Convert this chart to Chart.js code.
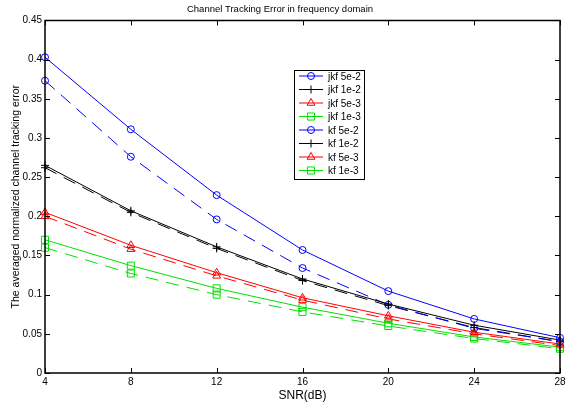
<!DOCTYPE html>
<html>
<head>
<meta charset="utf-8">
<script src="https://cdn.jsdelivr.net/npm/chart.js@4.4.1/dist/chart.umd.min.js"></script>
<style>
  body { margin: 0; background: #fff; }
</style>
</head>
<body>
<canvas id="myChart" width="581" height="405"></canvas>
<script>
// SNR points (dB)
const snr = [4, 8, 12, 16, 20, 24, 28];
const yTicks = [0, 0.05, 0.1, 0.15, 0.2, 0.25, 0.3, 0.35, 0.4, 0.45];

// solid curves
const jkf5e2 = [0.403, 0.311, 0.227, 0.157, 0.1045, 0.069, 0.045];
const jkf1e2 = [0.265, 0.207, 0.161, 0.120, 0.088, 0.061, 0.042];
const jkf5e3 = [0.205, 0.163, 0.128, 0.096, 0.073, 0.052, 0.037];
const jkf1e3 = [0.170, 0.137, 0.108, 0.084, 0.0635, 0.046, 0.033];
// dashed curves
const kf5e2 = [0.373, 0.276, 0.196, 0.134, 0.087, 0.057, 0.040];
const kf1e2 = [0.262, 0.205, 0.159, 0.118, 0.086, 0.058, 0.040];
const kf5e3 = [0.200, 0.158, 0.124, 0.093, 0.069, 0.050, 0.035];
const kf1e3 = [0.160, 0.127, 0.100, 0.078, 0.060, 0.044, 0.031];

const FONT = "'Liberation Sans', Arial, sans-serif";
const GREEN = "#00e000";

function series(label, values, color, style, radius, dashed) {
  return {
    label: label,
    data: snr.map((x, i) => ({ x: x, y: values[i] })),
    borderColor: color,
    borderWidth: 1,
    borderDash: dashed ? [13, 8] : [],
    pointStyle: style,
    pointRadius: radius,
    pointHoverRadius: radius,
    pointBorderColor: color,
    pointBackgroundColor: "rgba(0,0,0,0)",
    pointBorderWidth: 1,
    fill: false,
    tension: 0,
    clip: false
  };
}

// box, inward ticks and the legend inside the plot, matlab style
const matlabAxes = {
  id: "matlabAxes",
  afterDraw(chart) {
    const c = chart.ctx;
    const a = chart.chartArea;
    const xs = chart.scales.x, ys = chart.scales.y;
    c.save();
    c.setLineDash([]);
    c.strokeStyle = "#000000";
    c.lineWidth = 1.5;
    c.beginPath();
    c.moveTo(a.left, a.top);
    c.lineTo(a.right, a.top);
    c.lineTo(a.right, a.bottom);
    c.lineTo(a.left, a.bottom);
    c.closePath();
    c.stroke();
    c.lineWidth = 1;
    c.beginPath();
    snr.forEach(v => {
      const px = Math.round(xs.getPixelForValue(v)) + 0.5;
      c.moveTo(px, a.bottom); c.lineTo(px, a.bottom - 5);
      c.moveTo(px, a.top); c.lineTo(px, a.top + 5);
    });
    yTicks.forEach(v => {
      const py = Math.round(ys.getPixelForValue(v)) + 0.5;
      c.moveTo(a.left, py); c.lineTo(a.left + 5, py);
      c.moveTo(a.right, py); c.lineTo(a.right - 5, py);
    });
    c.stroke();

    // legend
    const lx = 294, ly = 70, lw = 70, lh = 109;
    c.fillStyle = "#fff";
    c.fillRect(lx, ly, lw, lh);
    c.strokeStyle = "#000";
    c.strokeRect(lx + 0.5, ly + 0.5, lw, lh);
    c.font = "10px " + FONT;
    c.textBaseline = "middle";
    chart.data.datasets.forEach((ds, i) => {
      const y = ly + 6 + i * 13.5;
      c.strokeStyle = ds.borderColor;
      c.lineWidth = 1;
      c.beginPath();
      c.moveTo(lx + 5, y); c.lineTo(lx + 29, y);
      c.stroke();
      c.fillStyle = "rgba(0,0,0,0)";
      Chart.helpers.drawPoint(c, {
        pointStyle: ds.pointStyle, radius: ds.pointRadius, rotation: 0,
        borderWidth: 1
      }, lx + 17, y);
      c.fillStyle = "#000";
      c.fillText(ds.label, lx + 34, y + 1);
    });
    c.restore();
  }
};

const ctx = document.getElementById("myChart").getContext("2d");
const myChart = new Chart(ctx, {
  type: "line",
  data: {
    datasets: [
      series("jkf 5e-2", jkf5e2, "#0000ff", "circle", 3.5, false),
      series("jkf 1e-2", jkf1e2, "#000000", "cross", 4, false),
      series("jkf 5e-3", jkf5e3, "#ff0000", "triangle", 4.5, false),
      series("jkf 1e-3", jkf1e3, GREEN, "rect", 5, false),
      series("kf 5e-2", kf5e2, "#0000ff", "circle", 3.5, true),
      series("kf 1e-2", kf1e2, "#000000", "cross", 4, true),
      series("kf 5e-3", kf5e3, "#ff0000", "triangle", 4.5, true),
      series("kf 1e-3", kf1e3, GREEN, "rect", 5, true)
    ]
  },
  plugins: [matlabAxes],
  options: {
    responsive: false,
    animation: false,
    layout: { padding: { top: 0, right: 21, bottom: 0, left: 0 } },
    plugins: {
      legend: { display: false },
      tooltip: { enabled: false },
      title: {
        display: true,
        text: "Channel Tracking Error in frequency domain",
        color: "#000",
        font: { family: FONT, size: 9.5, weight: "normal" },
        padding: { top: 4, bottom: 5 }
      }
    },
    scales: {
      x: {
        type: "linear",
        min: 4,
        max: 28,
        afterBuildTicks: s => { s.ticks = snr.map(v => ({ value: v })); },
        afterFit: s => { s.height = 32; },
        ticks: { color: "#000", font: { family: FONT, size: 10 }, padding: 3, maxRotation: 0 },
        grid: { display: false, drawTicks: false },
        border: { display: false },
        title: {
          display: true, text: "SNR(dB)", color: "#000",
          font: { family: FONT, size: 12 }, padding: { top: 0, bottom: 2 }
        }
      },
      y: {
        min: 0,
        max: 0.45,
        afterBuildTicks: s => { s.ticks = yTicks.map(v => ({ value: v })); },
        afterFit: s => { s.width = 45; },
        ticks: {
          color: "#000", font: { family: FONT, size: 10 }, padding: 3,
          callback: v => String(+v.toFixed(2))
        },
        grid: { display: false, drawTicks: false },
        border: { display: false },
        title: {
          display: true, text: "The averaged normalized channel tracking error",
          color: "#000", font: { family: FONT, size: 10.5 }, padding: { top: 10, bottom: 0 }
        }
      }
    }
  }
});
</script>
</body>
</html>
